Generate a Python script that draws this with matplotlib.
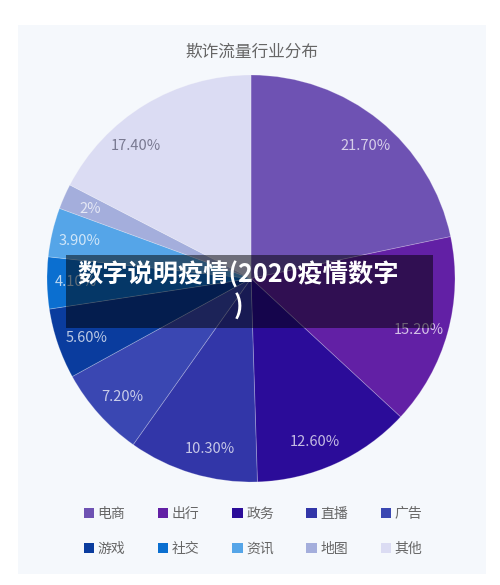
import matplotlib
matplotlib.use("Agg")
import matplotlib.pyplot as plt
from matplotlib.patches import Rectangle
import numpy as np

plt.rcParams['font.family'] = ['Noto Sans CJK SC', 'DejaVu Sans']

title = "欺诈流量行业分布"
categories = ["电商", "出行", "政务", "直播", "广告", "游戏", "社交", "资讯", "地图", "其他"]
values = [21.7, 15.2, 12.6, 10.3, 7.2, 5.6, 4.1, 3.9, 2.0, 17.4]
colors = ["#6e52b3", "#6220a5", "#2b0c99", "#3236a8", "#3a47b2",
          "#0a3c9e", "#0b6fd0", "#55a5e8", "#a4aedc", "#dbdcf3"]
overlay_text = "数字说明疫情(2020疫情数字\n)"

# label placement style (small angular nudges, degrees) as in the original rendering
label_nudge_deg = [-1.8, -1.5, -3.2, 3.2, 1.0, 1.3, 0.0, 0.6, 0.4, 9.7]
label_colors = ["white"] * 9 + ["#6e6e86"]

W, H = 500, 585
fig = plt.figure(figsize=(W / 100, H / 100), dpi=100, facecolor="white")

def fx(px):
    return px / W

def fy(py):
    return 1 - py / H

# light panel
fig.patches.append(Rectangle((fx(18), fy(574)), fx(486) - fx(18), fy(25) - fy(574),
                             transform=fig.transFigure, facecolor="#f5f8fc",
                             edgecolor="none", zorder=-10))

fig.text(fx(252), fy(52), title, ha="center", va="center", fontsize=12, color="#666666")

# pie axes
ax = fig.add_axes([fx(47), fy(482), fx(455) - fx(47), fy(75) - fy(482)])
ax.set_facecolor("none")
wedges, texts = ax.pie(values, colors=colors, startangle=90, counterclock=False,
                       radius=1, wedgeprops=dict(edgecolor=(1, 1, 1, 0.25), linewidth=0.6))
ax.set_xlim(-1, 1)
ax.set_ylim(-1, 1)
ax.set_aspect("auto")
ax.axis("off")

total = sum(values)
cum = 0
for v, nd, lc in zip(values, label_nudge_deg, label_colors):
    mid = 90 - (cum + v / 2) / total * 360 + nd
    cum += v
    r = 0.86
    lbl = f"{v:.2f}%" if v != 2.0 else "2%"
    ax.text(r * np.cos(np.radians(mid)), r * np.sin(np.radians(mid)), lbl,
            ha="center", va="center", fontsize=10.5, color=lc,
            alpha=0.72 if lc == "white" else 0.9)

# legend (row-major order)
order = [0, 5, 1, 6, 2, 7, 3, 8, 4, 9]
leg = fig.legend([wedges[i] for i in order], [categories[i] for i in order],
                 ncol=5, loc="center", bbox_to_anchor=(fx(253), fy(531.5)),
                 frameon=False, fontsize=10, handlelength=0.75, handleheight=0.75,
                 handletextpad=0.25, columnspacing=2.35, labelspacing=1.5)
for t in leg.get_texts():
    t.set_color("#666666")
for h in leg.legend_handles:
    h.set_edgecolor("none")

# overlay banner
fig.patches.append(Rectangle((fx(66), fy(328)), fx(433) - fx(66), fy(255) - fy(328),
                             transform=fig.transFigure, facecolor="black", alpha=0.5,
                             edgecolor="none", zorder=5))
fig.text(fx(238), fy(291.5), overlay_text, ha="center", va="center", multialignment="center",
         fontsize=18.2, fontweight="bold", color="white", linespacing=1.25, zorder=6)

fig.savefig("out.png", dpi=100, facecolor="white")
